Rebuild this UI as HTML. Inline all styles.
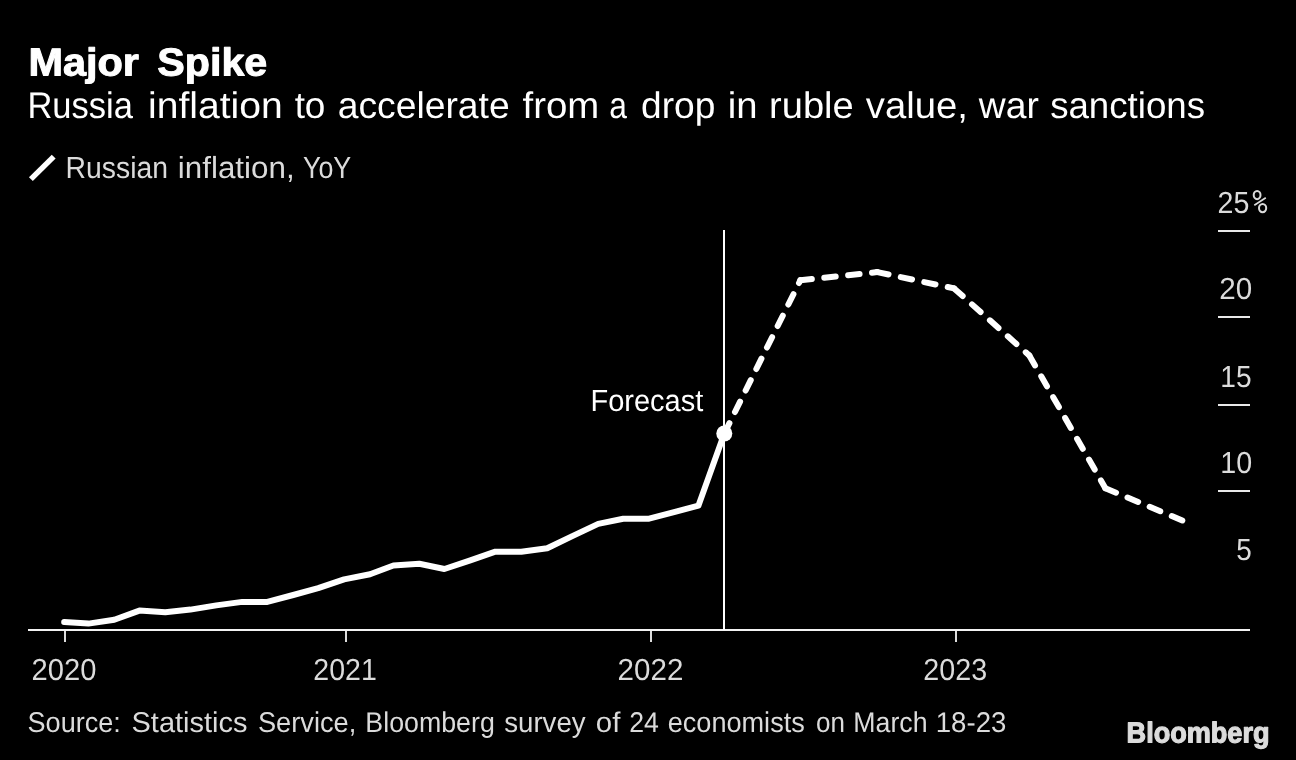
<!DOCTYPE html>
<html><head><meta charset="utf-8"><title>Major Spike</title>
<style>html,body{margin:0;padding:0;background:#000;overflow:hidden}svg{display:block;will-change:transform}text{font-family:"Liberation Sans",sans-serif;white-space:pre;text-rendering:geometricPrecision}</style>
</head><body>
<svg width="1296" height="760" viewBox="0 0 1296 760">
<rect width="1296" height="760" fill="#000"/>
<line x1="30.9" y1="179.1" x2="53.7" y2="156.6" stroke="#fff" stroke-width="5.5"/>
<rect x="1218" y="230" width="32" height="2" fill="#e8e8e8"/>
<rect x="1218" y="316" width="32" height="2" fill="#e8e8e8"/>
<rect x="1218" y="404" width="32" height="2" fill="#e8e8e8"/>
<rect x="1218" y="490" width="32" height="2" fill="#e8e8e8"/>
<g fill="none" stroke="#dbdbdb"><ellipse cx="1257.1" cy="195.1" rx="3.4" ry="4.05" stroke-width="2"/><ellipse cx="1262.6" cy="208.1" rx="3.6" ry="4.05" stroke-width="2"/><line x1="1254.3" y1="205.3" x2="1265.8" y2="197.7" stroke-width="1.7"/></g>
<rect x="28" y="629" width="1222" height="2" fill="#f2f2f2"/>
<rect x="64" y="631" width="2" height="11" fill="#dcdcdc"/>
<rect x="345" y="631" width="2" height="11" fill="#dcdcdc"/>
<rect x="650" y="631" width="2" height="11" fill="#dcdcdc"/>
<rect x="955" y="631" width="2" height="11" fill="#dcdcdc"/>
<rect x="723" y="230" width="2" height="400" fill="#fff"/>
<polyline points="64.2,622.0 88.4,623.6 114.3,619.8 139.4,610.6 165.3,612.3 190.4,609.6 216.3,605.4 242.2,601.9 267.3,601.9 293.2,595.0 318.2,588.1 344.1,579.4 370.0,574.2 393.4,565.5 419.3,563.8 444.4,569.0 470.3,560.3 495.4,551.7 521.3,551.7 547.2,548.2 572.3,536.1 598.2,523.9 623.2,518.7 649.1,518.7 675.0,511.8 698.4,505.7 724.3,433.5" fill="none" stroke="#fff" stroke-width="6" stroke-linecap="round" stroke-linejoin="round"/>
<line x1="724.3" y1="433.5" x2="800.4" y2="280.2" stroke="#fff" stroke-width="6" stroke-linecap="round" stroke-dasharray="11.5 12.5"/>
<line x1="800.4" y1="280.2" x2="877.3" y2="272.1" stroke="#fff" stroke-width="6" stroke-linecap="round" stroke-dasharray="11.5 12.5"/>
<line x1="877.3" y1="272.1" x2="954.1" y2="288.4" stroke="#fff" stroke-width="6" stroke-linecap="round" stroke-dasharray="11.5 12.5"/>
<line x1="954.1" y1="288.4" x2="1029.3" y2="355.5" stroke="#fff" stroke-width="6" stroke-linecap="round" stroke-dasharray="11.5 12.5"/>
<line x1="1029.3" y1="355.5" x2="1105.4" y2="488.2" stroke="#fff" stroke-width="6" stroke-linecap="round" stroke-dasharray="11.5 12.5"/>
<line x1="1105.4" y1="488.2" x2="1182.3" y2="520.5" stroke="#fff" stroke-width="6" stroke-linecap="round" stroke-dasharray="11.5 12.5"/>
<circle cx="724.3" cy="433.5" r="8" fill="#fff"/>
<text transform="translate(28.40 75.5) scale(1.0602 1) rotate(0.05)" font-size="39.1" fill="#fff" font-weight="700" stroke="#fff" stroke-width="1.0" stroke-linejoin="round" vector-effect="non-scaling-stroke">Major</text>
<text transform="translate(157.26 75.5) scale(1.0550 1) rotate(0.05)" font-size="39.1" fill="#fff" font-weight="700" stroke="#fff" stroke-width="1.0" stroke-linejoin="round" vector-effect="non-scaling-stroke">Spike</text>
<text transform="translate(27.44 118) scale(0.9323 1)" font-size="37.0" fill="#fff">Russia</text>
<text transform="translate(148.02 118) scale(1.0554 1)" font-size="37.0" fill="#fff">inflation</text>
<text transform="translate(294.63 118) scale(0.9962 1)" font-size="37.0" fill="#fff">to</text>
<text transform="translate(337.76 118) scale(1.0068 1)" font-size="37.0" fill="#fff">accelerate</text>
<text transform="translate(522.62 118) scale(1.0363 1)" font-size="37.0" fill="#fff">from</text>
<text transform="translate(609.23 118) scale(0.8576 1)" font-size="37.0" fill="#fff">a</text>
<text transform="translate(641.02 118) scale(1.0030 1)" font-size="37.0" fill="#fff">drop</text>
<text transform="translate(727.82 118) scale(1.0346 1)" font-size="37.0" fill="#fff">in</text>
<text transform="translate(769.09 118) scale(1.0279 1)" font-size="37.0" fill="#fff">ruble</text>
<text transform="translate(865.87 118) scale(1.0332 1)" font-size="37.0" fill="#fff">value,</text>
<text transform="translate(978.75 118) scale(1.0071 1)" font-size="37.0" fill="#fff">war</text>
<text transform="translate(1050.15 118) scale(0.9908 1)" font-size="37.0" fill="#fff">sanctions</text>
<text transform="translate(65.58 178) scale(0.9297 1)" font-size="30.5" fill="#dbdbdb">Russian</text>
<text transform="translate(177.80 178) scale(1.0286 1)" font-size="30.5" fill="#dbdbdb">inflation,</text>
<text transform="translate(302.94 178) scale(0.8809 1)" font-size="30.5" fill="#dbdbdb">YoY</text>
<text transform="translate(27.55 732) scale(0.9500 1)" font-size="28.5" fill="#dbdbdb">Source:</text>
<text transform="translate(131.55 732) scale(1.0163 1)" font-size="28.5" fill="#dbdbdb">Statistics</text>
<text transform="translate(257.89 732) scale(0.9556 1)" font-size="28.5" fill="#dbdbdb">Service,</text>
<text transform="translate(365.36 732) scale(0.9389 1)" font-size="28.5" fill="#dbdbdb">Bloomberg</text>
<text transform="translate(504.17 732) scale(0.9706 1)" font-size="28.5" fill="#dbdbdb">survey</text>
<text transform="translate(595.83 732) scale(1.0307 1)" font-size="28.5" fill="#dbdbdb">of</text>
<text transform="translate(629.17 732) scale(0.9368 1)" font-size="28.5" fill="#dbdbdb">24</text>
<text transform="translate(667.67 732) scale(0.9512 1)" font-size="28.5" fill="#dbdbdb">economists</text>
<text transform="translate(815.96 732) scale(0.9119 1)" font-size="28.5" fill="#dbdbdb">on</text>
<text transform="translate(853.36 732) scale(0.9372 1)" font-size="28.5" fill="#dbdbdb">March</text>
<text transform="translate(935.79 732) scale(0.9674 1)" font-size="28.5" fill="#dbdbdb">18-23</text>
<text transform="translate(590.48 411) scale(0.9508 1)" font-size="30.5" fill="#fff">Forecast</text>
<text transform="translate(1217.47 213) scale(0.9386 1)" font-size="30.5" fill="#dbdbdb">25</text>
<text transform="translate(1219.22 299) scale(0.9707 1)" font-size="30.5" fill="#dbdbdb">20</text>
<text transform="translate(1220.35 387) scale(0.9207 1)" font-size="30.5" fill="#dbdbdb">15</text>
<text transform="translate(1220.21 473) scale(0.9406 1)" font-size="30.5" fill="#dbdbdb">10</text>
<text transform="translate(1236.29 560) scale(0.9138 1)" font-size="30.5" fill="#dbdbdb">5</text>
<text transform="translate(31.54 680) scale(0.9559 1)" font-size="30.5" fill="#dbdbdb">2020</text>
<text transform="translate(313.37 680) scale(0.9359 1)" font-size="30.5" fill="#dbdbdb">2021</text>
<text transform="translate(617.62 680) scale(0.9697 1)" font-size="30.5" fill="#dbdbdb">2022</text>
<text transform="translate(923.27 680) scale(0.9405 1)" font-size="30.5" fill="#dbdbdb">2023</text>
<text transform="translate(1126.60 742.4) scale(0.9371 1) rotate(0.05)" font-size="28.9" fill="#dcdcdc" font-weight="700" stroke="#dcdcdc" stroke-width="1.2" stroke-linejoin="round" vector-effect="non-scaling-stroke">Bloomberg</text>
</svg>
</body></html>
